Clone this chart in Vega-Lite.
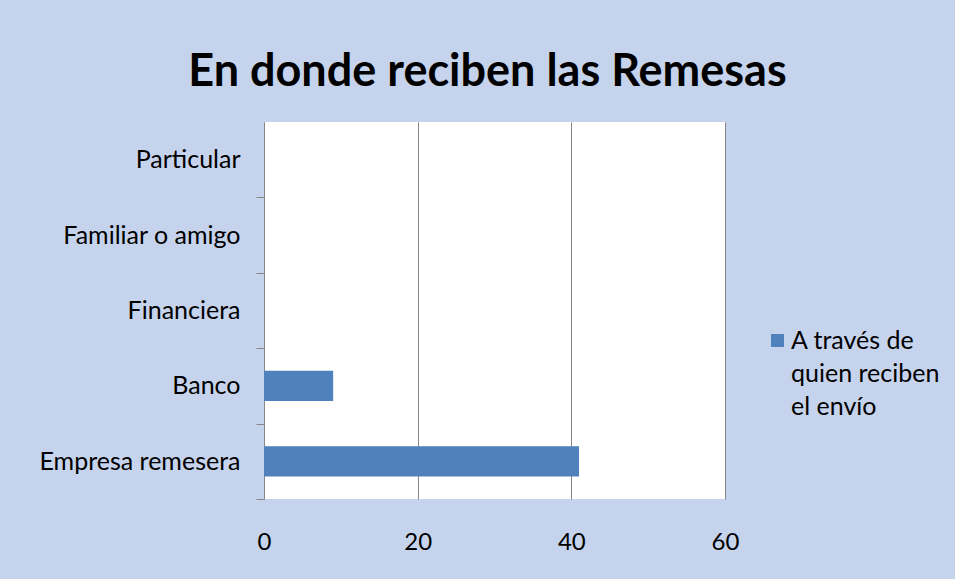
{
  "$schema": "https://vega.github.io/schema/vega-lite/v6.json",
  "autosize": "none",
  "width": 461,
  "height": 377,
  "padding": {"left": 264, "top": 122, "right": 230, "bottom": 80},
  "background": "#c6d3ec",
  "title": {
    "text": "En donde reciben las Remesas",
    "font": "Lato",
    "fontSize": 45,
    "fontWeight": "bold",
    "color": "#000000",
    "anchor": "middle",
    "dx": -7,
    "offset": 27
  },
  "data": {
    "values": [
      {"lugar": "Particular", "valor": 0, "serie": "A través de quien reciben el envío"},
      {"lugar": "Familiar o amigo", "valor": 0, "serie": "A través de quien reciben el envío"},
      {"lugar": "Financiera", "valor": 0, "serie": "A través de quien reciben el envío"},
      {"lugar": "Banco", "valor": 9, "serie": "A través de quien reciben el envío"},
      {"lugar": "Empresa remesera", "valor": 41, "serie": "A través de quien reciben el envío"}
    ]
  },
  "mark": {"type": "bar", "color": "#4f81bd"},
  "encoding": {
    "y": {
      "field": "lugar",
      "type": "nominal",
      "sort": null,
      "scale": {"paddingInner": 0.6, "paddingOuter": 0.3},
      "axis": {
        "title": null,
        "tickOffset": 37.7,
        "labelOffset": -37.7,
        "domainColor": "#868686",
        "tickColor": "#868686",
        "tickSize": 8,
        "labelPadding": 16,
        "labelLimit": 300,
        "labelFont": "Lato",
        "labelFontSize": 25,
        "labelColor": "#000000"
      }
    },
    "x": {
      "field": "valor",
      "type": "quantitative",
      "scale": {"domain": [0, 60]},
      "axis": {
        "title": null,
        "values": [0, 20, 40, 60],
        "grid": true,
        "gridColor": "#868686",
        "gridOpacity": 1,
        "domain": false,
        "ticks": false,
        "labelFlush": false,
        "labelPadding": 31,
        "labelFont": "Lato",
        "labelFontSize": 24,
        "labelColor": "#000000"
      }
    },
    "color": {
      "field": "serie",
      "type": "nominal",
      "scale": {"range": ["#4f81bd"]},
      "legend": {
        "title": null,
        "orient": "none",
        "legendX": 501,
        "legendY": 206,
        "symbolType": "square",
        "symbolSize": 169,
        "symbolStrokeWidth": 0,
        "labelFont": "Lato",
        "labelFontSize": 25,
        "labelColor": "#000000",
        "labelOffset": 1,
        "labelBaseline": "middle",
        "labelLimit": 300,
        "labelExpr": "[slice(datum.label, 0, 11), slice(datum.label, 12, 25), slice(datum.label, 26)]"
      }
    }
  },
  "config": {
    "view": {"fill": "#ffffff", "stroke": null},
    "style": {"guide-label": {"lineHeight": 33}}
  }
}
